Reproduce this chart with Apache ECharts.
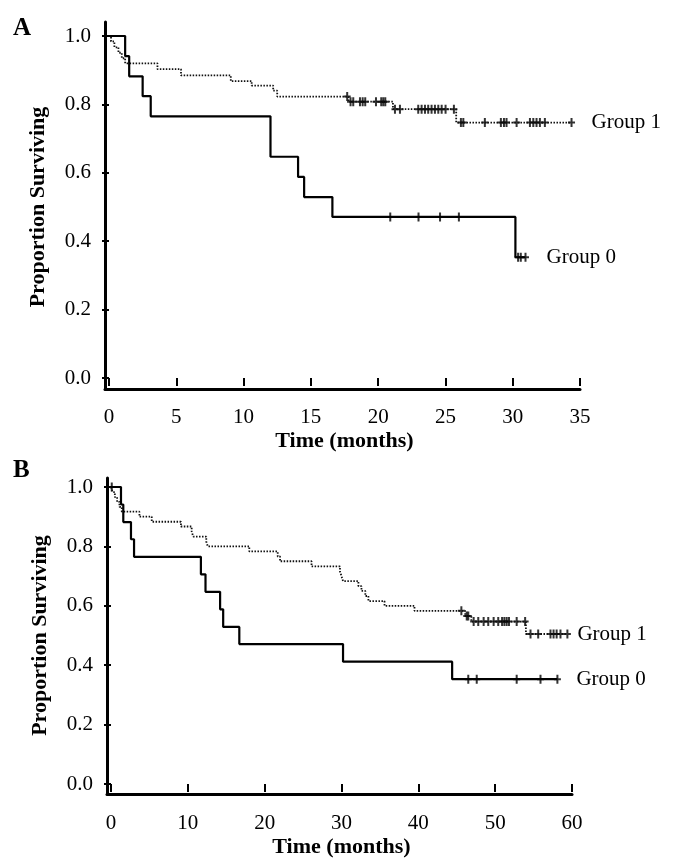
<!DOCTYPE html>
<html>
<head>
<meta charset="utf-8">
<script src="https://cdn.jsdelivr.net/npm/echarts@6/dist/echarts.min.js"></script>
<style>
html,body{margin:0;padding:0;background:#fff;}
#chart{width:688px;height:865px;}
</style>
</head>
<body>
<div id="chart"></div>
<script>
// ---------- Panel A (0-35 months) ----------
const aGroup0Time   = [0, 1.2, 1.5, 2.5, 3.1, 12.0, 14.05, 14.5, 16.6, 30.2];
const aGroup0Surv   = [1.0, 0.941, 0.882, 0.824, 0.765, 0.647, 0.588, 0.529, 0.471, 0.353];
const aGroup0Censor = [20.9, 23.0, 24.6, 26.0, 30.4, 30.6, 30.95];

const aGroup1Time   = [0, 0.15, 0.4, 0.7, 0.95, 1.2, 3.6, 5.35, 9.05, 10.6, 12.2, 12.5, 17.8, 21.1, 25.8];
const aGroup1Surv   = [1.0, 0.984, 0.967, 0.951, 0.935, 0.920, 0.903, 0.885, 0.868, 0.855, 0.840, 0.823, 0.808, 0.786, 0.747];
const aGroup1Censor = [17.7, 17.95, 18.15, 18.65, 18.85, 19.04, 19.84, 20.23, 20.38, 20.53, 21.25, 21.62,
                       22.98, 23.23, 23.48, 23.72, 23.97, 24.22, 24.47, 24.72, 25.01, 25.63, 26.15, 26.33,
                       27.93, 29.12, 29.35, 29.54, 30.29, 31.28, 31.53, 31.77, 32.02, 32.39, 34.37];

// ---------- Panel B (0-60 months) ----------
const bGroup0Time   = [0, 1.3, 1.6, 2.6, 3.0, 11.7, 12.3, 14.2, 14.6, 16.7, 30.2, 44.4];
const bGroup0Surv   = [1.0, 0.941, 0.882, 0.824, 0.765, 0.706, 0.647, 0.588, 0.529, 0.471, 0.412, 0.353];
const bGroup0Censor = [46.5, 47.6, 52.8, 55.9, 58.1];

const bGroup1Time   = [0, 0.2, 0.5, 0.8, 1.1, 1.4, 3.7, 5.3, 9.1, 10.5, 10.7, 12.4, 12.6, 18.0, 21.7, 22.0,
                       26.1, 29.8, 30.0, 30.2, 32.2, 32.6, 33.1, 33.5, 35.6, 39.5, 46.1, 46.9, 54.0];
const bGroup1Surv   = [1.0, 0.983, 0.966, 0.950, 0.933, 0.917, 0.900, 0.883, 0.867, 0.850, 0.833, 0.816, 0.800, 0.783, 0.766, 0.750,
                       0.733, 0.716, 0.700, 0.683, 0.666, 0.650, 0.633, 0.616, 0.600, 0.583, 0.566, 0.547, 0.505];
const bGroup1Censor = [0.1, 45.6, 46.3, 46.5, 47.2, 47.8, 48.5, 49.1, 49.8, 50.4, 50.9, 51.2, 51.5, 51.8,
                       52.8, 53.9, 54.6, 55.6, 57.2, 57.6, 58.0, 58.5, 59.4];

const groupNames = ['Group 0', 'Group 1'];
const panelLetters = ['A', 'B'];
const xTitle = 'Time (months)';
const yTitle = 'Proportion Surviving';

// ---------- helpers ----------
const FONT = '"Liberation Serif", "DejaVu Serif", serif';
function survAt(times, survs, t) {
  let s = survs[0];
  for (let i = 0; i < times.length; i++) if (times[i] <= t) s = survs[i];
  return s;
}
function curve(times, survs, censors) {
  const pts = times.map((t, i) => [t, survs[i]]);
  const last = Math.max(...censors);
  if (last > times[times.length - 1]) pts.push([last, survs[survs.length - 1]]);
  return pts;
}
function censorPts(times, survs, censors) {
  return censors.map(t => [t, survAt(times, survs, t)]);
}
const PLUS = 'path://M2.5,0H4.5V9H2.5ZM0,3.5H7V5.5H0Z';

function lineSeries(idx, data, solid, name, dist) {
  return {
    type: 'line', xAxisIndex: idx, yAxisIndex: idx, data: data, step: 'end',
    symbol: 'none', silent: true,
    lineStyle: solid ? { color: '#000', width: 2.2, type: 'solid' }
                     : { color: '#111', width: 1.8, type: [1.5, 1.5] },
    endLabel: { show: true, formatter: name, distance: dist, color: '#000',
                fontFamily: FONT, fontSize: 21 }
  };
}
function censorSeries(idx, data) {
  return {
    type: 'scatter', xAxisIndex: idx, yAxisIndex: idx, data: data,
    symbol: PLUS, symbolSize: [7, 9], silent: true,
    itemStyle: { color: '#000' }
  };
}
function frameAxes(gridIdx) {
  return { type: 'value', gridIndex: gridIdx, min: 0, max: 1,
    axisLine: { show: true, onZero: false, lineStyle: { color: '#000', width: 3 } },
    axisTick: { show: false }, axisLabel: { show: false }, splitLine: { show: false } };
}
function dataX(gridIdx, max, interval) {
  return { type: 'value', gridIndex: gridIdx, min: 0, max: max, interval: interval, offset: 11,
    axisLine: { show: false }, splitLine: { show: false },
    axisTick: { show: true, length: 8, lineStyle: { color: '#000', width: 2 } },
    axisLabel: { margin: 18, color: '#000', fontFamily: FONT, fontSize: 21 },
    name: xTitle, nameLocation: 'middle', nameGap: 41,
    nameTextStyle: { color: '#000', fontFamily: FONT, fontSize: 22, fontWeight: 'bold' } };
}
function dataY(gridIdx) {
  return { type: 'value', gridIndex: gridIdx, min: 0, max: 1, interval: 0.2, offset: 4,
    axisLine: { show: false }, splitLine: { show: false },
    axisTick: { show: true, length: 7, lineStyle: { color: '#000', width: 2 } },
    axisLabel: { margin: 14, color: '#000', fontFamily: FONT, fontSize: 21,
                 formatter: v => v.toFixed(1) },
    name: yTitle, nameLocation: 'middle', nameGap: 56,
    nameTextStyle: { color: '#000', fontFamily: FONT, fontSize: 22, fontWeight: 'bold' } };
}

const chart = echarts.init(document.getElementById('chart'), null, { renderer: 'canvas' });
const option = {
  animation: false,
  backgroundColor: '#fff',
  grid: [
    { left: 105, right: 108, top: 22, bottom: 476 },   // A frame
    { left: 109, right: 108, top: 36, bottom: 487 },   // A data
    { left: 107, right: 116, top: 478, bottom: 71 },   // B frame
    { left: 111, right: 116, top: 487, bottom: 81 }    // B data
  ],
  xAxis: [frameAxes(0), dataX(1, 35, 5), frameAxes(2), dataX(3, 60, 10)],
  yAxis: [frameAxes(0), dataY(1), frameAxes(2), dataY(3)],
  graphic: [
    { type: 'text', left: 13, top: 16, style: { text: panelLetters[0], fill: '#000',
      font: 'bold 25px "Liberation Serif", serif' } },
    { type: 'text', left: 13, top: 458, style: { text: panelLetters[1], fill: '#000',
      font: 'bold 25px "Liberation Serif", serif' } }
  ],
  series: [
    lineSeries(1, curve(aGroup1Time, aGroup1Surv, aGroup1Censor), false, groupNames[1], 20),
    lineSeries(1, curve(aGroup0Time, aGroup0Surv, aGroup0Censor), true, groupNames[0], 21),
    censorSeries(1, censorPts(aGroup1Time, aGroup1Surv, aGroup1Censor)),
    censorSeries(1, censorPts(aGroup0Time, aGroup0Surv, aGroup0Censor)),
    lineSeries(3, curve(bGroup1Time, bGroup1Surv, bGroup1Censor), false, groupNames[1], 10),
    lineSeries(3, curve(bGroup0Time, bGroup0Surv, bGroup0Censor), true, groupNames[0], 19),
    censorSeries(3, censorPts(bGroup1Time, bGroup1Surv, bGroup1Censor)),
    censorSeries(3, censorPts(bGroup0Time, bGroup0Surv, bGroup0Censor))
  ]
};
chart.setOption(option);
</script>
</body>
</html>
